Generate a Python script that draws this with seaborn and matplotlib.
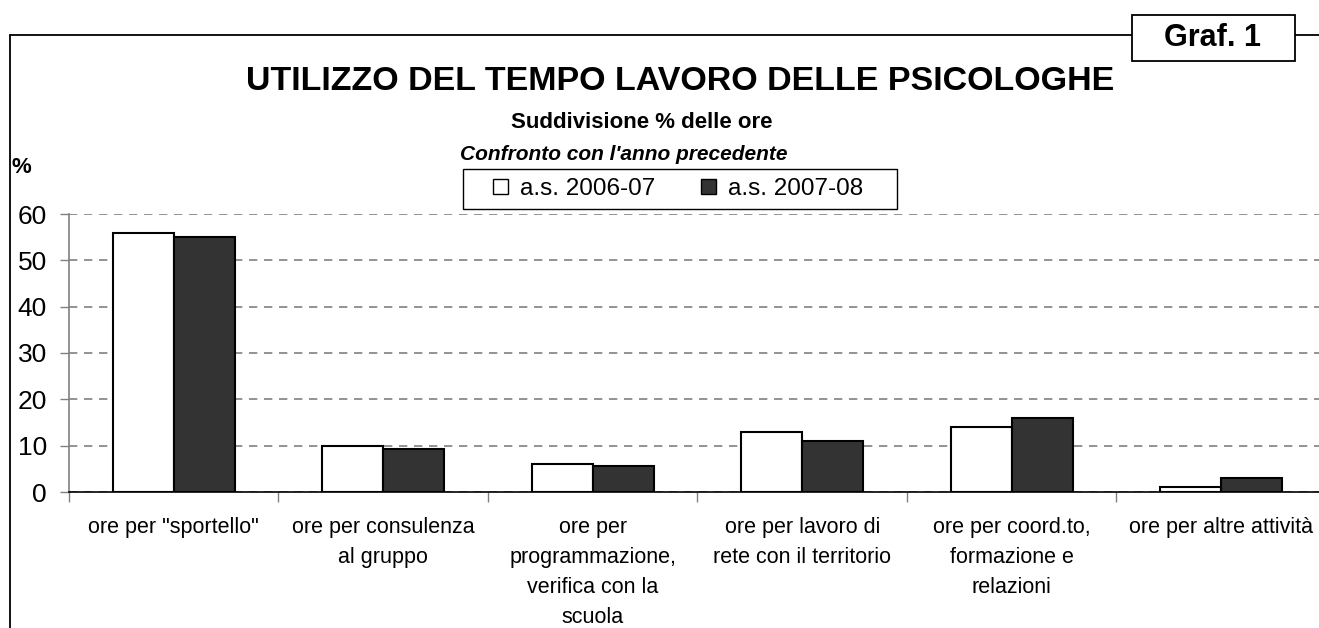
import matplotlib
matplotlib.use("Agg")
import matplotlib.pyplot as plt
from matplotlib.lines import Line2D
from matplotlib.patches import Rectangle
import seaborn as sns
import pandas as pd

categories = [
    'ore per "sportello"',
    "ore per consulenza\nal gruppo",
    "ore per\nprogrammazione,\nverifica con la\nscuola",
    "ore per lavoro di\nrete con il territorio",
    "ore per coord.to,\nformazione e\nrelazioni",
    "ore per altre attività",
]
years = ["a.s. 2006-07", "a.s. 2007-08"]
values_2006 = [56, 10, 6, 13, 14, 1]
values_2007 = [55, 9.2, 5.7, 11, 16, 3]

df = pd.DataFrame({
    "categoria": categories * 2,
    "anno": [years[0]] * len(categories) + [years[1]] * len(categories),
    "valore": values_2006 + values_2007,
})

sns.set_theme(style="white")
plt.rcParams["font.family"] = ["Liberation Sans", "DejaVu Sans"]
plt.rcParams["text.color"] = "black"
plt.rcParams["xtick.labelcolor"] = "black"
plt.rcParams["ytick.labelcolor"] = "black"

W, H = 1319, 628
fig = plt.figure(figsize=(W / 100, H / 100), dpi=100)

# axes in pixel terms: left 69, right ~1326, top 214, bottom 492
ax = fig.add_axes([69 / W, 1 - 492 / H, (1326 - 69) / W, (492 - 214) / H])

sns.barplot(data=df, x="categoria", y="valore", hue="anno",
            palette=["white", "#333333"], edgecolor="black", linewidth=1.5,
            width=0.58, ax=ax, legend=False, zorder=3)

ax.set_xlim(-0.5, 5.5)
ax.set_ylim(0, 60)
ax.set_yticks(range(0, 61, 10))
ax.yaxis.grid(True, linestyle=(0, (5, 4)), color="#808080", linewidth=1.2, zorder=0)
ax.set_xlabel("")
ax.set_ylabel("")

for side in ["top", "right"]:
    ax.spines[side].set_visible(False)
ax.spines["left"].set_color("#808080")
ax.spines["bottom"].set_color("black")
ax.spines["left"].set_linewidth(1.2)
ax.spines["bottom"].set_linewidth(1.2)

ax.tick_params(axis="y", left=True, length=6.5, width=1, color="#808080",
               labelsize=19, pad=9.5, labelcolor="black")
ax.set_xticks(range(len(categories)))
ax.set_xticklabels(categories, fontsize=15.5, linespacing=1.56, va="top", color="black")
ax.tick_params(axis="x", bottom=False, length=0, pad=18)
ax.set_xticks([i - 0.5 for i in range(len(categories) + 1)], minor=True)
ax.tick_params(axis="x", which="minor", bottom=True, length=7, width=1, color="#808080")

# outer frame
fig.add_artist(Line2D([9.5 / W, 1.0], [1 - 35 / H, 1 - 35 / H], color="black", lw=1.3))
fig.add_artist(Line2D([9.5 / W, 9.5 / W], [1 - 35 / H, 0], color="black", lw=1.3))

# "Graf. 1" box
fig.add_artist(Rectangle((1132 / W, 1 - 61 / H), (1295 - 1132) / W, (61 - 15) / H,
                         transform=fig.transFigure, facecolor="white",
                         edgecolor="black", lw=1.3, zorder=5))
fig.text(1212 / W, 1 - 38 / H, "Graf. 1", ha="center", va="center",
         fontsize=22, fontweight="bold", zorder=6)

# titles
fig.text(680 / W, 1 - 81 / H, "UTILIZZO DEL TEMPO LAVORO DELLE PSICOLOGHE",
         ha="center", va="center", fontsize=24.5, fontweight="bold")
fig.text(642 / W, 1 - 122 / H, "Suddivisione % delle ore",
         ha="center", va="center", fontsize=16, fontweight="bold")
fig.text(624 / W, 1 - 154 / H, "Confronto con l'anno precedente",
         ha="center", va="center", fontsize=15, fontweight="bold", style="italic")
fig.text(12 / W, 1 - 168 / H, "%", ha="left", va="center",
         fontsize=16, fontweight="bold")

# legend box drawn by hand, legend entries without frame
fig.add_artist(Rectangle((463 / W, 1 - 209 / H), (897 - 463) / W, (209 - 169) / H,
                         transform=fig.transFigure, facecolor="white",
                         edgecolor="black", lw=1.0, zorder=4))
handles = [Rectangle((0, 0), 1, 1, facecolor="white", edgecolor="black", lw=1),
           Rectangle((0, 0), 1, 1, facecolor="#333333", edgecolor="black", lw=1)]
leg = fig.legend(handles, years, loc="center", bbox_to_anchor=(678 / W, 1 - 189 / H),
                 ncol=2, fontsize=17.5, frameon=False,
                 handlelength=0.62, handleheight=0.62, handletextpad=0.5,
                 columnspacing=1.9, borderpad=0.3, borderaxespad=0)
leg.set_zorder(6)

fig.savefig("out.png", dpi=100, facecolor="white")
